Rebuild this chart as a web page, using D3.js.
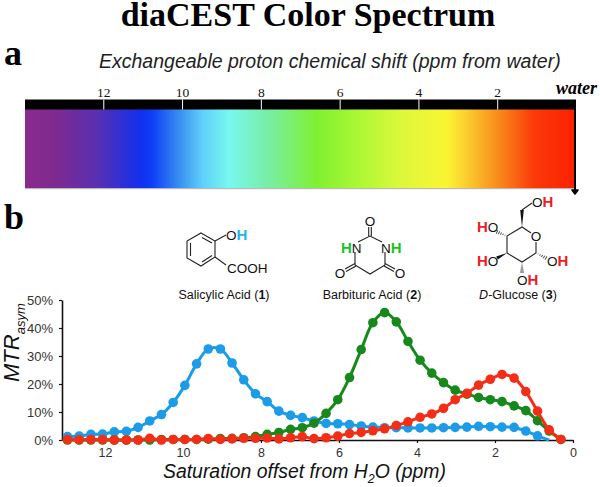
<!DOCTYPE html>
<html>
<head>
<meta charset="utf-8">
<script src="https://cdn.jsdelivr.net/npm/d3@7"></script>
<style>
  html, body { margin: 0; padding: 0; background: #fff; }
  svg { display: block; }
  text { font-family: "Liberation Sans", sans-serif; fill: #111; }
  .serif, .serif text { font-family: "Liberation Serif", serif; }
  .bond { stroke: #222; stroke-width: 1.1; fill: none; }
  .atom { font-size: 13.5px; }
  .atom tspan.h { font-weight: bold; font-size: 15px; }
</style>
</head>
<body>
<svg id="chart" width="600" height="487"></svg>
<script>
// saturation offsets (ppm), read left to right
var offsets = [12.96, 12.66, 12.36, 12.06, 11.76, 11.45, 11.15, 10.85, 10.55, 10.25, 9.95,
  9.65, 9.35, 9.04, 8.74, 8.44, 8.14, 7.84, 7.54, 7.24, 6.94, 6.64, 6.33, 6.03, 5.73, 5.43,
  5.13, 4.83, 4.53, 4.23, 3.92, 3.62, 3.32, 3.02, 2.72, 2.42, 2.12, 1.82, 1.51, 1.21, 0.91, 0.61, 0.31];

// MTRasym in %
var salicylic = [1.2, 1.4, 2.0, 2.1, 2.9, 3.1, 4.5, 6.8, 9.1, 13.4, 19.5,
  27.2, 32.5, 32.5, 27.5, 21.5, 16.5, 13.7, 10.3, 8.8, 8.0, 6.8, 5.9, 5.8, 5.5, 5.0,
  4.6, 4.4, 4.4, 4.3, 4.3, 4.3, 4.4, 4.5, 4.6, 4.9, 4.75, 4.6, 4.5, 3.2, 1.5, 0, null];
var barbituric = [0, 0, 0, 0, 0, 0, 0, 0, 0.2, 0.2, 0.2,
  0.2, 0.3, 0.5, 0.6, 0.8, 1.2, 2.0, 2.7, 3.8, 4.4, 6.0, 9.5, 14.4, 22.3, 32.3,
  41.9, 45.5, 42.2, 35.2, 28.5, 23.9, 20.5, 17.8, 16.4, 15.2, 14.4, 13.7, 12.2, 10.5, 6.9, 3.2, 0.2];
var glucose = [0.2, 0.1, 0.2, 0.2, 0, 0, 0, 0.6, 0, 0.2, 0.2,
  0.2, 0.5, 0.2, 0.4, 0.6, 0.6, 0.7, 0.4, 0.8, 1.2, 0.5, 0.8, 1.4, 2.3, 2.7,
  3.3, 4.0, 5.2, 6.5, 8.1, 9.3, 11.3, 14.4, 16.7, 19.6, 21.7, 23.4, 22.1, 17.3, 10.3, 3.6, 0.2];

var xTicks = [12, 10, 8, 6, 4, 2, 0];
var yTicks = [0, 10, 20, 30, 40, 50];
var shiftTicks = [12, 10, 8, 6, 4, 2];

// spectrum stops: ppm and colour
var stopPpm = [13.97, 13.25, 12.18, 11.02, 10.73, 10.05, 9.47, 8.79, 7.82, 6.55, 5.39, 4.42, 3.25, 2.77, 1.99, 1.02, 0.05];
var stopColor = ['#8a2a8e', '#7f2a90', '#5a2fb0', '#1030f0', '#1040f8', '#3a90f0', '#60d0fa', '#78f8ee',
  '#78eea8', '#80f030', '#b0f835', '#dcf83a', '#faf533', '#fbd030', '#f8901c', '#fb3a0a', '#fb2200'];

var svg = d3.select('#chart');
var defs = svg.append('defs');

defs.append('filter').attr('id', 'soft')
  .append('feGaussianBlur').attr('stdDeviation', 0.45);

//// TITLE AND PANEL LETTERS ////
svg.append('text').attr('class', 'serif')
  .attr('x', 308).attr('y', 26)
  .attr('text-anchor', 'middle')
  .style('font-size', '34px').style('font-weight', 'bold').style('fill', '#000')
  .text('diaCEST Color Spectrum');

svg.append('text').attr('class', 'serif')
  .attr('x', 4).attr('y', 65)
  .style('font-size', '36px').style('font-weight', 'bold').style('fill', '#000')
  .text('a');

svg.append('text').attr('class', 'serif')
  .attr('x', 4).attr('y', 229)
  .style('font-size', '36px').style('font-weight', 'bold').style('fill', '#000')
  .text('b');

svg.append('text')
  .attr('x', 99).attr('y', 68)
  .style('font-size', '19.5px').style('font-style', 'italic').style('fill', '#222')
  .text('Exchangeable proton chemical shift (ppm from water)');

//// SPECTRUM BAR ////
var shiftScale = d3.scaleLinear().domain([14, 0]).range([24.5, 576]);

var grad = defs.append('linearGradient').attr('id', 'spectrum')
  .attr('x1', 0).attr('x2', 1).attr('y1', 0).attr('y2', 0);

stopPpm.forEach(function(p, i) {
  grad.append('stop')
    .attr('offset', (shiftScale(p) - 24.5) / (576 - 24.5))
    .attr('stop-color', stopColor[i]);
});

svg.append('rect')
  .attr('x', 25).attr('y', 108).attr('width', 549).attr('height', 80)
  .attr('fill', 'url(#spectrum)');
svg.append('rect')
  .attr('x', 25).attr('y', 188).attr('width', 549).attr('height', 1.2)
  .attr('fill', '#bbb');

svg.append('rect')
  .attr('x', 25).attr('y', 99.5).attr('width', 551).attr('height', 10)
  .attr('fill', '#000');

var shiftAxis = svg.append('g').attr('class', 'serif')
  .attr('transform', 'translate(0,109.5)')
  .call(d3.axisTop(shiftScale).tickValues(shiftTicks).tickSize(10).tickPadding(3).tickSizeOuter(0));
shiftAxis.select('.domain').remove();
shiftAxis.selectAll('line').attr('stroke', '#fff').attr('stroke-width', 1);
shiftAxis.selectAll('text').style('font-size', '13.5px').style('font-family', '"Liberation Serif", serif');

svg.append('text').attr('class', 'serif')
  .attr('x', 597).attr('y', 94)
  .attr('text-anchor', 'end')
  .style('font-size', '18px').style('font-weight', 'bold').style('font-style', 'italic').style('fill', '#000')
  .text('water');

// water marker
svg.append('line')
  .attr('x1', 575).attr('x2', 575).attr('y1', 100).attr('y2', 191)
  .attr('stroke', '#000').attr('stroke-width', 2);
svg.append('path')
  .attr('d', 'M572,190 L578,190 L575,194 Z')
  .attr('fill', '#000')
  .attr('stroke', '#000')
  .attr('stroke-width', 1.6)
  .attr('stroke-linejoin', 'round');

//// MOLECULES ////
function bonds(pts, closed) {
  svg.append('path').attr('class', 'bond')
    .attr('d', d3.line()(pts) + (closed ? 'Z' : ''));
}

// text with the exchangeable proton coloured: parts = [[string, colour or null], ...]
function atom(x, y, parts, anchor) {
  var t = svg.append('text').attr('class', 'atom')
    .attr('x', x).attr('y', y)
    .attr('text-anchor', anchor || 'start');
  parts.forEach(function(p) {
    var s = t.append('tspan').text(p[0]);
    if (p[1]) s.attr('class', 'h').style('fill', p[1]);
  });
}

function wedge(x1, y1, x2, y2) {
  var dx = x2 - x1, dy = y2 - y1, len = Math.sqrt(dx * dx + dy * dy);
  var nx = -dy / len * 1.8, ny = dx / len * 1.8;
  svg.append('path').attr('fill', '#111')
    .attr('d', 'M' + x1 + ',' + y1 + 'L' + (x2 + nx) + ',' + (y2 + ny) + 'L' + (x2 - nx) + ',' + (y2 - ny) + 'Z');
}

function hashed(x1, y1, x2, y2) {
  d3.range(1, 6).forEach(function(i) {
    var f = i / 5, dx = x2 - x1, dy = y2 - y1, len = Math.sqrt(dx * dx + dy * dy);
    var mx = x1 + dx * f, my = y1 + dy * f, w = 1.9 * f;
    svg.append('line').attr('stroke', '#222').attr('stroke-width', 0.9)
      .attr('x1', mx - dy / len * w).attr('y1', my + dx / len * w)
      .attr('x2', mx + dy / len * w).attr('y2', my - dx / len * w);
  });
}

var blueH = '#1fb4ee', greenH = '#17c41d', redH = '#ee1c25';

// salicylic acid
bonds([[201, 233], [215, 241], [215, 257], [201, 266], [187, 258], [187, 241]], true);
bonds([[190.5, 243], [190.5, 256]]);
bonds([[202, 237.5], [212, 243]]);
bonds([[202, 262], [212, 255.5]]);
bonds([[215, 241], [226, 235]]);
bonds([[215, 257], [226, 265]]);
atom(226, 240, [['O'], ['H', blueH]]);
atom(227, 273, [['COOH']]);
svg.append('text').attr('x', 224).attr('y', 299).attr('text-anchor', 'middle')
  .style('font-size', '12.5px').html('Salicylic Acid (<tspan font-weight="bold">1</tspan>)');

// barbituric acid
bonds([[358, 242], [370, 236], [382, 242]]);
bonds([[355, 252], [355, 265], [370, 274], [385, 265], [385, 252]]);
bonds([[368.7, 236], [368.7, 227]]);
bonds([[371.3, 236], [371.3, 227]]);
bonds([[355, 263.5], [345, 269]]);
bonds([[356, 266], [346, 271.5]]);
bonds([[385, 263.5], [395, 269]]);
bonds([[384, 266], [394, 271.5]]);
atom(370, 226, [['O']], 'middle');
atom(340, 278, [['O']], 'middle');
atom(400, 278, [['O']], 'middle');
atom(341, 253, [['H', greenH], ['N']]);
atom(381, 253, [['N'], ['H', greenH]]);
svg.append('text').attr('x', 372).attr('y', 299).attr('text-anchor', 'middle')
  .style('font-size', '12.5px').html('Barbituric Acid (<tspan font-weight="bold">2</tspan>)');

// D-glucose
bonds([[531, 233], [522, 227], [507, 236], [507, 253], [522, 262], [536, 253], [536, 242]]);
wedge(522, 227, 522, 210);
bonds([[522, 210], [532, 203]]);
hashed(507, 236, 497, 232);
wedge(507, 253, 497, 258);
hashed(536, 253, 546, 258);
hashed(522, 262, 522, 272);
atom(532, 207, [['O'], ['H', redH]]);
atom(477, 232, [['H', redH], ['O']]);
atom(536, 241, [['O']], 'middle');
atom(477, 266, [['H', redH], ['O']]);
atom(547, 266, [['O'], ['H', redH]]);
atom(517, 285, [['O'], ['H', redH]]);
svg.append('text').attr('x', 518).attr('y', 298.5).attr('text-anchor', 'middle')
  .style('font-size', '12.5px')
  .html('<tspan font-style="italic">D</tspan>-Glucose (<tspan font-weight="bold">3</tspan>)');

//// MTR PLOT ////
var xScale = d3.scaleLinear().domain([13.1, 0]).range([62, 573]);
var yScale = d3.scaleLinear().domain([0, 50]).range([440, 300]);

var series = [
  { values: salicylic, color: '#1a9be8' },
  { values: barbituric, color: '#17881c' },
  { values: glucose, color: '#f42f18' }
];

var line = d3.line()
  .defined(function(d) { return d[1] !== null; })
  .x(function(d) { return xScale(d[0]); })
  .y(function(d) { return yScale(d[1]); })
  .curve(d3.curveCatmullRom);

var xAxis = svg.append('g')
  .attr('transform', 'translate(0,440)')
  .call(d3.axisBottom(xScale).tickValues(xTicks).tickSize(3).tickPadding(5).tickSizeOuter(0));
xAxis.select('.domain').attr('stroke', '#111').attr('stroke-width', 1.6);
xAxis.selectAll('line').attr('stroke', '#111').attr('stroke-width', 1.2);
xAxis.selectAll('text').style('font-size', '12.5px').style('font-family', '"Liberation Sans", sans-serif').style('fill', '#333');

var yAxis = svg.append('g')
  .attr('transform', 'translate(62,0)')
  .call(d3.axisLeft(yScale).tickValues(yTicks).tickSize(3).tickPadding(6).tickSizeOuter(0)
    .tickFormat(function(d) { return d + '%'; }));
yAxis.select('.domain').attr('stroke', '#111').attr('stroke-width', 1.6);
yAxis.selectAll('line').attr('stroke', '#111').attr('stroke-width', 1.2);
yAxis.selectAll('text').style('font-size', '13px').style('font-family', '"Liberation Sans", sans-serif').style('fill', '#333');

var marks = svg.append('g').attr('filter', 'url(#soft)');

series.forEach(function(s) {
  var pts = offsets.map(function(o, i) { return [o, s.values[i]]; });

  marks.append('path')
    .attr('d', line(pts))
    .attr('fill', 'none')
    .attr('stroke', s.color)
    .attr('stroke-width', 3);

  marks.selectAll(null)
    .data(pts.filter(function(d) { return d[1] !== null && (d[1] > 0 || s.values !== salicylic); }))
    .enter().append('circle')
    .attr('cx', function(d) { return xScale(d[0]); })
    .attr('cy', function(d) { return yScale(d[1]); })
    .attr('r', 4.8)
    .attr('fill', s.color);
});

// axis titles
svg.append('text')
  .attr('x', 163).attr('y', 478)
  .style('font-size', '19.4px').style('font-style', 'italic').style('fill', '#111')
  .html('Saturation offset from H<tspan dy="5" font-size="12.5px">2</tspan><tspan dy="-5">O (ppm)</tspan>');

svg.append('text')
  .attr('transform', 'translate(19,382) rotate(-90)')
  .style('font-size', '22px').style('font-style', 'italic').style('fill', '#111')
  .html('MTR<tspan dy="6" font-size="13px">asym</tspan>');
</script>
</body>
</html>
